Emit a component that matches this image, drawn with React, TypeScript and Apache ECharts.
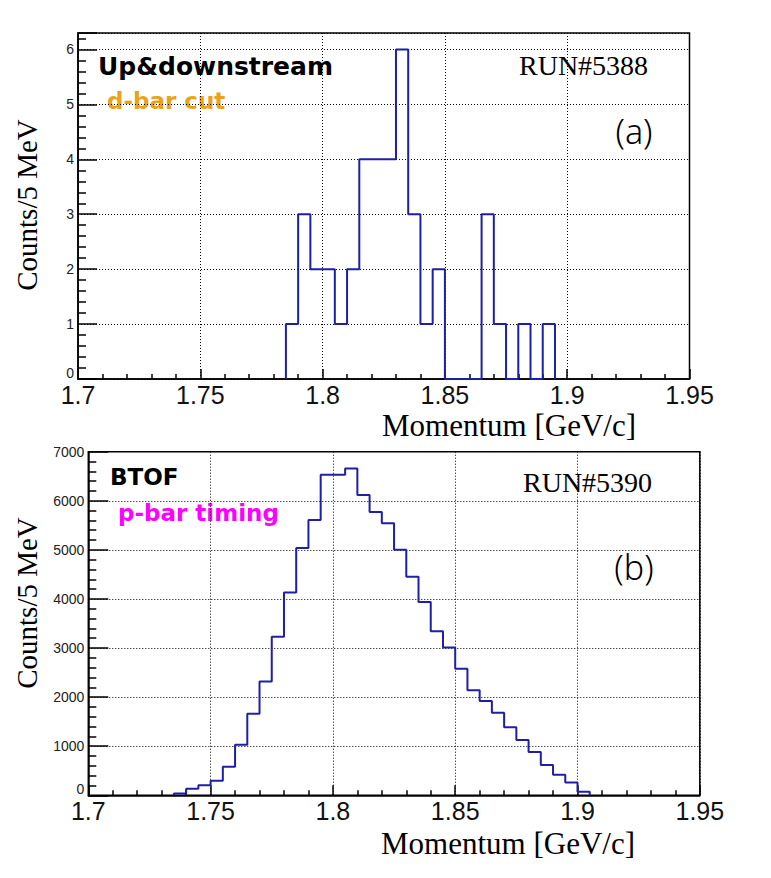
import React, { useEffect, useRef } from "react";
import * as echarts from "echarts";

// ---- Panel (a): RUN#5388, Up&downstream, d-bar cut ----
const binLowA = [1.785, 1.79, 1.795, 1.8, 1.805, 1.81, 1.815, 1.82, 1.825, 1.83, 1.835, 1.84, 1.845, 1.85, 1.855, 1.86, 1.865, 1.87, 1.875, 1.88, 1.885, 1.89];
const countsA = [1, 3, 2, 2, 1, 2, 4, 4, 4, 6, 3, 1, 2, 0, 0, 0, 3, 1, 0, 1, 0, 1];
const lastEdgeA = 1.895;

// ---- Panel (b): RUN#5390, BTOF, p-bar timing ----
const binLowB = [1.735, 1.74, 1.745, 1.75, 1.755, 1.76, 1.765, 1.77, 1.775, 1.78, 1.785, 1.79, 1.795, 1.8, 1.805, 1.81, 1.815, 1.82, 1.825, 1.83, 1.835, 1.84, 1.845, 1.85, 1.855, 1.86, 1.865, 1.87, 1.875, 1.88, 1.885, 1.89, 1.895, 1.9];
const countsB = [35, 135, 205, 295, 580, 1030, 1660, 2320, 3230, 4130, 5040, 5610, 6530, 6530, 6660, 6120, 5770, 5540, 5000, 4450, 3940, 3340, 3010, 2580, 2140, 1920, 1680, 1385, 1125, 880, 615, 420, 262, 72];
const lastEdgeB = 1.905;

const xMin = 1.7;
const xMax = 1.95;
const xInterval = 0.05;
const yMaxA = 6.3;
const yMaxB = 7000;

const xTitle = "Momentum [GeV/c]";
const yTitle = "Counts/5 MeV";

function stepData(lows: number[], counts: number[], lastEdge: number) {
  const d: number[][] = [[lows[0], 0]];
  lows.forEach((x, i) => d.push([x, counts[i]]));
  d.push([lastEdge, 0]);
  return d;
}

const lineColor = "#1f1fa5";
const gridLine = { show: true, lineStyle: { color: "#000", width: 1, type: [1, 2] as any } };

function xAxisCfg(gridIndex: number) {
  return {
    type: "value",
    gridIndex,
    min: xMin,
    max: xMax,
    interval: xInterval,
    axisLine: { show: true, lineStyle: { color: "#000", width: 1.5 } },
    axisTick: { show: true, inside: true, length: 10, lineStyle: { color: "#000", width: 1.5 } },
    minorTick: { show: true, splitNumber: 5, length: 5, lineStyle: { color: "#000", width: 1.5 } },
    splitLine: gridLine,
    axisLabel: {
      margin: 3,
      fontSize: 25,
      lineHeight: 25,
      fontFamily: "Liberation Sans, Arial, sans-serif",
      color: "#111",
      formatter: (v: number) => String(Math.round(v * 100) / 100),
    },
  };
}

function yAxisCfg(gridIndex: number, max: number, interval: number, majorLen: number) {
  return {
    type: "value",
    gridIndex,
    min: 0,
    max,
    interval,
    axisLine: { show: true, lineStyle: { color: "#000", width: 1.5 } },
    axisTick: { show: true, inside: true, length: majorLen, lineStyle: { color: "#000", width: 1.5 } },
    minorTick: { show: true, splitNumber: 5, length: 8, lineStyle: { color: "#000", width: 1.5 } },
    splitLine: gridLine,
    axisLabel: {
      margin: 4,
      fontSize: 14,
      fontFamily: "Liberation Sans, Arial, sans-serif",
      color: "#222",
      rich: {
        z: { fontSize: 14, fontFamily: "Liberation Sans, Arial, sans-serif", color: "#222", padding: [0, 0, 12, 0] },
      },
      formatter: (v: number) => {
        const r = Math.round(v / interval);
        if (Math.abs(r * interval - v) > interval * 1e-6) return "";
        return r === 0 ? "{z|0}" : String(r * interval);
      },
    },
  };
}

function txt(text: string, x: number, y: number, font: string, fill: string, align: string, rotation = 0) {
  return {
    type: "text",
    x,
    y,
    rotation,
    silent: true,
    style: {
      text,
      font,
      fill,
      align,
      textAlign: align,
      verticalAlign: "middle",
      textVerticalAlign: "middle",
    },
  };
}

export default function App() {
  const ref = useRef<HTMLDivElement>(null);
  useEffect(() => {
    if (!ref.current) return;
    const chart = echarts.init(ref.current, undefined, { renderer: "svg" });
    const serif = "'Liberation Serif', 'Times New Roman', serif";
    const bold = "'DejaVu Sans', sans-serif";
    chart.setOption({
      animation: false,
      backgroundColor: "#fff",
      grid: [
        { left: 78, top: 33, width: 611.5, height: 346, show: true, borderColor: "#000", borderWidth: 1.5, backgroundColor: "transparent" },
        { left: 88.3, top: 451.7, width: 611.5, height: 343.6, show: true, borderColor: "#000", borderWidth: 1.5, backgroundColor: "transparent" },
      ],
      xAxis: [xAxisCfg(0), xAxisCfg(1)],
      yAxis: [yAxisCfg(0, yMaxA, 1, 19), yAxisCfg(1, yMaxB, 1000, 20)],
      series: [
        {
          type: "line",
          xAxisIndex: 0,
          yAxisIndex: 0,
          step: "end",
          symbol: "none",
          showSymbol: false,
          lineStyle: { color: lineColor, width: 2 },
          data: stepData(binLowA, countsA, lastEdgeA),
        },
        {
          type: "line",
          xAxisIndex: 1,
          yAxisIndex: 1,
          step: "end",
          symbol: "none",
          showSymbol: false,
          lineStyle: { color: lineColor, width: 2 },
          data: stepData(binLowB, countsB, lastEdgeB),
        },
      ],
      graphic: [
        // panel (a)
        txt("Up&downstream", 98, 66, `bold 25px ${bold}`, "#000", "left"),
        txt("d-bar cut", 107, 101, `bold 23px ${bold}`, "#e9a319", "left"),
        txt("RUN#5388", 519, 65.5, `28px ${serif}`, "#000", "left"),
        txt("(a)", 634, 131, `300 34px 'Noto Sans', sans-serif`, "#000", "center"),
        txt(xTitle, 636, 425, `31px ${serif}`, "#000", "right"),
        txt(yTitle, 27, 205, `29px ${serif}`, "#000", "center", Math.PI / 2),
        // panel (b)
        txt("BTOF", 110, 477, `bold 23px ${bold}`, "#000", "left"),
        txt("p-bar timing", 118, 513, `bold 23px ${bold}`, "#ff00ff", "left"),
        txt("RUN#5390", 523, 482, `28px ${serif}`, "#000", "left"),
        txt("(b)", 634, 567, `300 34px 'Noto Sans', sans-serif`, "#000", "center"),
        txt(xTitle, 635, 843, `31px ${serif}`, "#000", "right"),
        txt(yTitle, 27, 603, `29px ${serif}`, "#000", "center", Math.PI / 2),
      ],
    });
    return () => chart.dispose();
  }, []);
  return <div ref={ref} style={{ position: "absolute", left: 0, top: 0, width: 771, height: 878 }} />;
}
